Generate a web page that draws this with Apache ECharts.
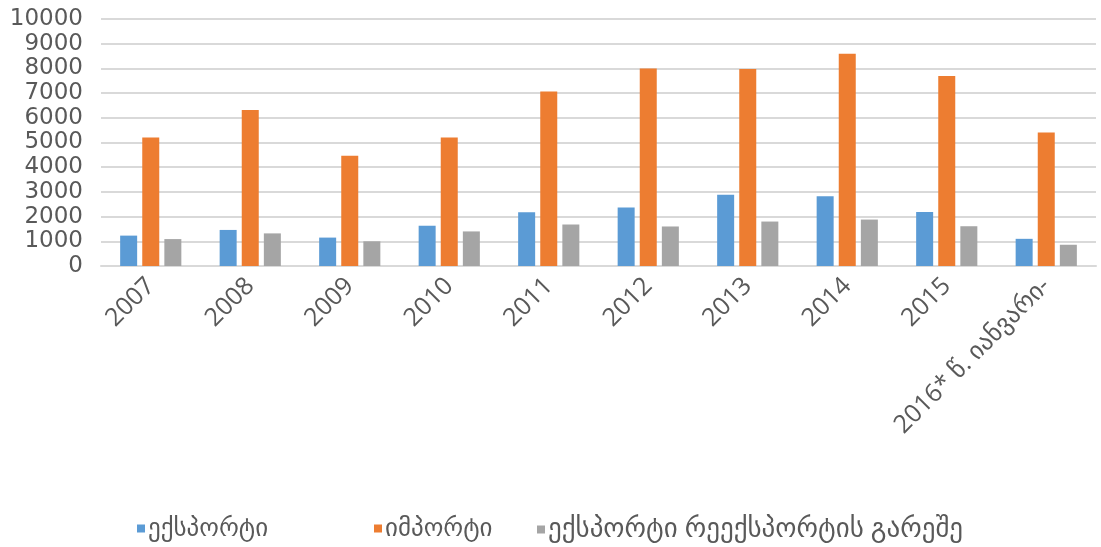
<!DOCTYPE html>
<html><head><meta charset="utf-8">
<script src="https://cdn.jsdelivr.net/npm/echarts@6/dist/echarts.min.js"></script>
<style>html,body{margin:0;padding:0;background:#fff}#c{width:1101px;height:547px}</style>
</head><body><div id="c"></div>
<script>
const categories = ['2007','2008','2009','2010','2011','2012','2013','2014','2015','2016* წ. იანვარი-'];
const exportVals = [1230,1460,1150,1630,2180,2370,2880,2820,2190,1100];
const importVals = [5200,6320,4460,5200,7060,8000,7980,8590,7690,5400];
const exportNoReexport = [1090,1320,1000,1400,1680,1600,1800,1880,1610,860];
const seriesNames = ['ექსპორტი','იმპორტი','ექსპორტი რეექსპორტის გარეშე'];
const colors = ['#5B9BD5','#ED7D31','#A5A5A5'];

const chart = echarts.init(document.getElementById('c'), null, {renderer:'canvas'});
const font = '"Open Sans", "DejaVu Sans", sans-serif';
const legendLefts = [132, 369, 532];
const legendSizes = [25, 25, 27];
chart.setOption({
  animation:false,
  color: colors,
  textStyle:{fontFamily:font},
  grid:{left:101,right:5,top:19,bottom:281},
  legend: seriesNames.map((n,i)=>({
    top:511,left:legendLefts[i],itemWidth:8,itemHeight:8,icon:'rect',itemGap:0,
    textStyle:{fontSize:legendSizes[i],color:'#595959',fontFamily:font,padding:[0,0,0,-2]},
    data:[n]
  })),
  xAxis:{
    type:'category',data:categories,
    axisLine:{lineStyle:{color:'#d9d9d9',width:2}},
    axisTick:{show:false},
    axisLabel:{rotate:45,interval:0,fontSize:25,color:'#595959',margin:16,fontFamily:font}
  },
  yAxis:{
    type:'value',min:0,max:10000,interval:1000,
    axisLine:{show:false},axisTick:{show:false},
    splitLine:{lineStyle:{color:'#d9d9d9',width:2}},
    axisLabel:{fontSize:23,color:'#595959',margin:18,fontFamily:'"DejaVu Sans", sans-serif',formatter:v=>String(v),
      showMinLabel:true,showMaxLabel:true,hideOverlap:false}
  },
  series:[
    {name:seriesNames[0],type:'bar',data:exportVals,barWidth:17,barGap:'30%'},
    {name:seriesNames[1],type:'bar',data:importVals,barWidth:17,barGap:'30%'},
    {name:seriesNames[2],type:'bar',data:exportNoReexport,barWidth:17,barGap:'30%'}
  ]
});
</script></body></html>
